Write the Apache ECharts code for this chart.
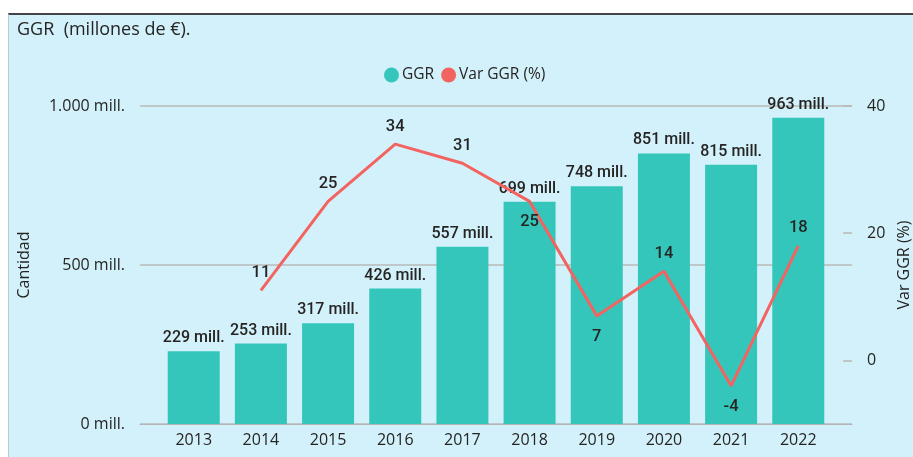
<!DOCTYPE html>
<html>
<head>
<meta charset="utf-8">
<script src="https://cdn.jsdelivr.net/npm/echarts@6.0.0/dist/echarts.min.js"></script>
<style>
  html, body { margin: 0; padding: 0; background: #fff; }
  #panel { position: absolute; left: 8px; top: 13px; width: 905px; height: 444px;
           background: #d3f1fa; border-top: 2px solid #444; border-left: 1px solid #b9c9cf; box-sizing: border-box; }
  #main { position: absolute; left: 0; top: 0; width: 913px; height: 457px; }
</style>
</head>
<body>
<div id="panel"></div>
<div id="main"></div>
<script>
    // datos
    var years = [2013, 2014, 2015, 2016, 2017, 2018, 2019, 2020, 2021, 2022];
    var ggr = [229, 253, 317, 426, 557, 699, 748, 851, 815, 963];   // millones de €
    var varYears = [2014, 2015, 2016, 2017, 2018, 2019, 2020, 2021, 2022];
    var varGgr = [11, 25, 34, 31, 25, 7, 14, -4, 18];                // %
    var leftTicks = [0, 500, 1000];
    var rightTicks = [0, 20, 40];

    var labelBelow = [2018, 2019, 2021];   // etiquetas debajo del punto

    var chart = echarts.init(document.getElementById('main'));
    var txt = '#252423';
    var font = '"Open Sans", "Noto Sans", sans-serif';
    var fmtMill = function (v) {
        return String(v).replace(/\B(?=(\d{3})+(?!\d))/g, '.') + ' mill.';
    };

    var barData = years.map(function (y, i) { return [y, ggr[i]]; });
    var lineData = varYears.map(function (y, i) {
        var below = labelBelow.indexOf(y) >= 0;
        return {
            value: [y, varGgr[i]],
            label: { position: below ? 'bottom' : 'top', distance: below ? 12 : 9 }
        };
    });

    var option = {
        backgroundColor: 'transparent',
        textStyle: { fontFamily: font, color: txt },
        title: {
            text: 'GGR  (millones de €).',
            left: 12, top: 16,
            textStyle: { fontSize: 18, fontWeight: 'normal', color: txt, fontFamily: font }
        },
        legend: {
            top: 62, left: 379,
            icon: 'circle', itemWidth: 15, itemHeight: 15, itemGap: 7,
            textStyle: { fontSize: 15.5, color: txt, fontFamily: font, padding: [0, 0, 0, -2] },
            data: ['GGR', 'Var GGR (%)']
        },
        grid: { left: 140, right: 61, top: 106, bottom: 33, outerBoundsMode: 'none' },
        xAxis: {
            type: 'value',
            min: 2012.2, max: 2022.8,
            splitLine: { show: false },
            axisTick: { show: false },
            axisLine: { show: true, lineStyle: { color: '#b4b4b4', width: 1 } },
            axisLabel: {
                customValues: years,
                formatter: function (v) { return String(v); },
                fontSize: 16, color: txt, margin: 8, fontFamily: font
            }
        },
        yAxis: [
            {
                type: 'value', min: 0, max: 1000, interval: 500,
                name: 'Cantidad', nameLocation: 'middle', nameGap: 108, nameRotate: 90,
                nameTextStyle: { fontSize: 16, color: txt, fontFamily: font },
                axisLine: { show: false }, axisTick: { show: false },
                axisLabel: { formatter: fmtMill, fontSize: 16, color: txt, margin: 15, fontFamily: font },
                splitLine: { lineStyle: { color: '#b8b8b8', width: 1.5 } }
            },
            {
                type: 'value', min: -10, max: 40,
                name: 'Var GGR (%)', nameLocation: 'middle', nameGap: 44, nameRotate: 90,
                nameTextStyle: { fontSize: 16, color: txt, fontFamily: font },
                axisLine: { show: false },
                axisTick: { show: true, inside: true, length: 9, customValues: rightTicks,
                            lineStyle: { color: '#b8b8b8', width: 1.5 } },
                axisLabel: { customValues: rightTicks, fontSize: 16, color: txt, margin: 15, fontFamily: font },
                splitLine: { show: false }
            }
        ],
        series: [
            {
                name: 'GGR',
                type: 'bar',
                barWidth: 52,
                yAxisIndex: 0,
                itemStyle: { color: '#35c6bb' },
                label: {
                    show: true, position: 'top', distance: 5,
                    formatter: function (p) { return fmtMill(p.value[1]); },
                    fontSize: 16, fontWeight: 500, color: txt, fontFamily: 'Roboto, sans-serif'
                },
                data: barData
            },
            {
                name: 'Var GGR (%)',
                type: 'line',
                yAxisIndex: 1,
                symbol: 'circle',
                symbolSize: 0.1,
                showSymbol: true,
                itemStyle: { color: '#f36360' },
                lineStyle: { color: '#f36360', width: 3 },
                label: {
                    show: true,
                    formatter: function (p) { return p.value[1]; },
                    fontSize: 16.5, fontWeight: 500, color: txt, fontFamily: 'Roboto, sans-serif'
                },
                data: lineData,
                z: 5
            }
        ]
    };
    option && chart.setOption(option);
</script>
</body>
</html>
